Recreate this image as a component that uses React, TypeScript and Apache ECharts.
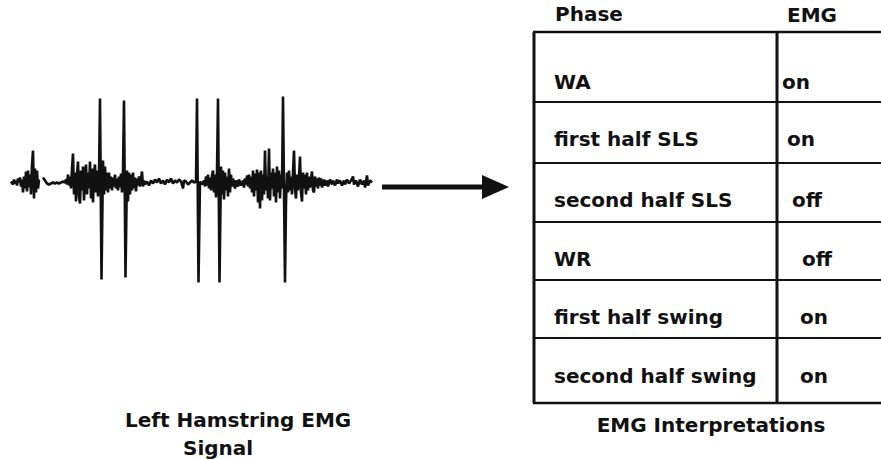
import React, { useEffect, useRef } from "react";
import * as echarts from "echarts";

// ---- data ----
const phases = ["WA", "first half SLS", "second half SLS", "WR", "first half swing", "second half swing"];
const emgStates = ["on", "on", "off", "off", "on", "on"];
const headerLabels = ["Phase", "EMG"];
const signalCaption = ["Left Hamstring EMG", "Signal"];
const tableCaption = "EMG Interpretations";

// EMG trace: [sample, amplitude]
const emgTrace: (number | string)[][] = [
  [11, 1], [13, -2], [14, 3], [15, -1], [16, 2], [17, -3], [18, 4], [19, 0], [20, 5], [21, -4], [22, 3], [23, -10],
  [24, 6], [25, -6], [26, 11], [27, -9], [28, 12], [29, -5], [30, 8], [31, -12], [32, 18], [33, 32], [34, -16],
  [35, 14], [36, -10], [37, 12], [38, -6], [39, 3], [41, "-"],
  [43, 5], [45, 2], [47, -1], [49, -2], [51, -1], [53, 0], [55, -1], [57, 0], [59, -1], [61, 0], [63, 1], [65, 0],
  [66, 3], [67, -2], [68, 8], [69, -3], [70, 6], [71, -6], [72, 14], [73, 29], [74, -12], [75, 10], [76, -19],
  [77, 8], [78, 21], [79, -14], [80, -21], [81, 12], [82, -8], [83, 16], [84, -18], [85, 6], [86, 18], [87, -12],
  [88, 10], [89, -6], [90, 21], [91, -16], [92, 14], [93, -20], [94, 8], [95, 18], [96, -10], [97, 12], [98, -14],
  [99, 6], [100, 84], [101.5, -97],
  [103, 22], [104, -12], [105, 16], [106, -8], [107, 10], [108, -10], [109, 10], [110, -6], [111, 6], [112, -8],
  [113, 5], [114, -4], [115, 8], [116, -6], [117, 4], [118, -8], [119, 6], [120, -5], [121, 9], [122, -10],
  [123, 12], [124, 82], [125.5, -95],
  [127, 12], [128, -19], [129, 10], [130, -12], [131, 8], [132, -8], [133, 10], [134, -6], [135, 5], [136, -9],
  [137, 4], [138, -3], [139, 6], [140, -4], [141, 3], [142, 11], [143, -4], [144, 2], [145, -2], [147, 1],
  [149, -3], [151, 2], [153, -1], [155, 3], [157, 0], [159, 4], [161, -1], [163, 2], [165, -2], [167, 3],
  [169, 0], [171, 4], [173, -1], [175, 2], [177, 0], [179, 3], [181, 1], [183, -6], [184, 2], [186, 1],
  [188, -2], [190, 0], [192, 2], [194, 0], [196, 1], [197, 84], [198.5, -100],
  [200, 1], [202, -2], [204, 2], [205, -4], [206, 6], [207, -3], [208, 8], [209, -6], [210, 5], [211, -8],
  [212, 7], [213, 12], [214, -10], [215, 8], [216, -15], [217, 10], [218, 84], [219.5, -100],
  [221, 16], [222, -12], [223, 12], [224, -17], [225, 10], [226, -8], [227, 6], [228, -14], [229, 14],
  [230, -10], [231, 8], [232, -4], [233, 4], [235, -6], [236, 2], [238, -4], [239, 3], [241, -3], [243, 2],
  [244, -5], [245, 4], [246, -2], [247, 7], [248, -4], [249, 8], [250, -6], [251, 6], [252, -10], [253, 12],
  [254, -14], [255, 9], [256, -8], [257, 13], [258, -20], [259, 10], [260, -26], [261, 12], [262, -18],
  [263, 8], [264, -12], [265, 32], [266, -8], [267, 6], [268, -16], [269, 34], [270, -18], [271, 10],
  [272, -6], [273, 14], [274, -14], [275, 10], [276, -20], [277, 16], [278, -10], [279, 12], [280, -16],
  [281, 8], [282, -6], [283, 86], [285, -100],
  [286, -20], [287, 10], [288, -10], [289, 12], [290, -8], [291, 6], [292, -12], [293, 10], [294, 32],
  [295, -6], [296, -16], [297, 8], [298, -8], [299, 6], [300, 26], [301, -10], [302, -19], [303, 10],
  [304, -6], [305, 8], [306, -12], [307, 10], [308, -8], [309, 6], [310, -5], [311, 4], [312, 11], [313, -8],
  [314, -10], [315, 6], [316, -4], [317, 4], [318, -6], [319, 5], [320, -3], [321, 4], [322, -5], [324, 3],
  [325, -3], [327, 2], [328, -4], [330, 3], [332, -2], [333, 2], [335, -3], [337, 3], [338, -1], [340, 2],
  [342, -3], [344, 2], [345, -2], [347, 3], [349, -1], [351, 2], [353, 6], [354, -2], [356, 2], [358, -4],
  [360, 3], [362, -2], [364, 2], [365, -5], [367, 7], [368, -3], [370, 2], [372, 0],
];

// ---- layout (not data) ----
const FONT = 'bold 20px "DejaVu Sans"';
const INK = "#111111";
const tableLeft = 534;
const tableDivider = 777;
const tableRight = 881;
const rowLines = [32, 102, 163, 222, 280, 338, 403];
const rowTextY = [82, 139, 200, 259, 317, 376];
const emgTextX = [782, 787, 792, 802, 800, 800];

export default function App() {
  const ref = useRef<HTMLDivElement>(null);

  useEffect(() => {
    document.body.style.margin = "0";
    if (!ref.current) return;
    const chart = echarts.init(ref.current, undefined, { renderer: "svg" });

    const graphics: any[] = [];
    // arrow
    graphics.push({
      type: "line",
      shape: { x1: 382, y1: 187, x2: 486, y2: 187 },
      style: { stroke: INK, lineWidth: 5 },
    });
    graphics.push({
      type: "polygon",
      shape: { points: [[482, 175], [509, 187], [482, 199]] },
      style: { fill: INK },
    });
    // table lines
    rowLines.forEach((y, i) => {
      graphics.push({
        type: "line",
        shape: { x1: tableLeft - 1, y1: y, x2: tableRight, y2: y },
        style: { stroke: INK, lineWidth: i === 0 || i === rowLines.length - 1 ? 2.5 : 2 },
      });
    });
    graphics.push({
      type: "line",
      shape: { x1: tableLeft, y1: rowLines[0], x2: tableLeft, y2: rowLines[rowLines.length - 1] },
      style: { stroke: INK, lineWidth: 3 },
    });
    graphics.push({
      type: "line",
      shape: { x1: tableDivider, y1: rowLines[0], x2: tableDivider, y2: rowLines[rowLines.length - 1] },
      style: { stroke: INK, lineWidth: 3 },
    });
    const txt = (text: string, x: number, y: number, align = "left") => ({
      type: "text",
      style: { text, x, y, font: FONT, fill: INK, align, verticalAlign: "middle" },
    });
    graphics.push(txt(headerLabels[0], 555, 14));
    graphics.push(txt(headerLabels[1], 787, 15));
    phases.forEach((p, i) => {
      graphics.push(txt(p, 554, rowTextY[i]));
      graphics.push(txt(emgStates[i], emgTextX[i], rowTextY[i]));
    });
    graphics.push(txt(tableCaption, 711, 425, "center"));
    graphics.push(txt(signalCaption[0], 125, 420));
    graphics.push(txt(signalCaption[1], 183, 448));

    chart.setOption({
      animation: false,
      backgroundColor: "#ffffff",
      grid: { left: 10, top: 82.5, width: 362, height: 202 },
      xAxis: { type: "value", min: 10, max: 372, show: false },
      yAxis: { type: "value", min: -102, max: 100, show: false },
      series: [
        {
          type: "line",
          data: emgTrace,
          showSymbol: false,
          connectNulls: false,
          clip: false,
          lineStyle: { color: INK, width: 2.6 },
          itemStyle: { color: INK },
        },
      ],
      graphic: graphics,
    });

    return () => chart.dispose();
  }, []);

  return (
    <div
      ref={ref}
      style={{ position: "absolute", left: 0, top: 0, width: 881, height: 459 }}
    />
  );
}
